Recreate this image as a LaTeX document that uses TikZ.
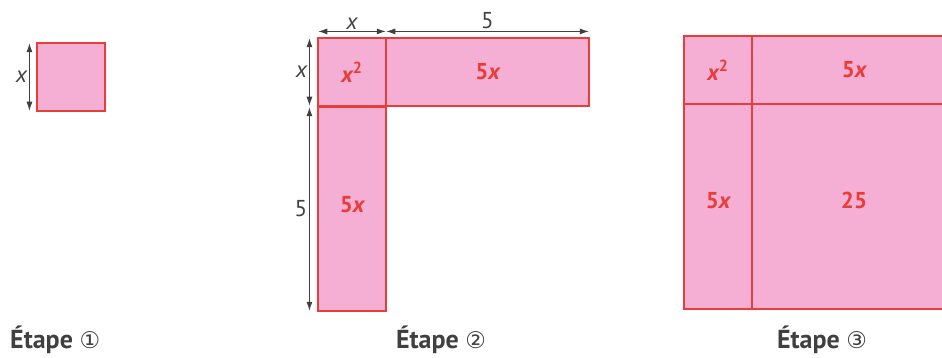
\documentclass[tikz,border=0pt]{standalone}
\usepackage{fontspec}
\setmainfont{PT Sans}
\newfontfamily\circfont{DejaVu Sans}
\usetikzlibrary{arrows.meta}
\definecolor{rose}{RGB}{245,174,212}
\definecolor{rouge}{RGB}{232,62,58}
\definecolor{gris}{RGB}{64,64,64}
\begin{document}
\begin{tikzpicture}[x=1pt,y=-1pt,
    cell/.style={draw=rouge,fill=rose,line width=1.1pt,inner sep=0pt,text=rouge,
        font=\fontsize{23}{26}\selectfont\bfseries},
    cote/.style={gris,line width=0.8pt,shorten <=0.8pt,shorten >=0.8pt,
        {Latex[length=9pt,width=6pt]}-{Latex[length=9pt,width=6pt]}},
    cotelab/.style={text=gris,inner sep=2pt,font=\fontsize{23}{26}\selectfont},
    etape/.style={text=gris,inner sep=0pt,font=\fontsize{26}{30}\selectfont\bfseries}]
    \clip (0,0) rectangle (942,358);
    % etape 1
    \node[cell,minimum width=68pt,minimum height=68pt] (sqA) at (71,77) {};
    \draw[cote] ([xshift=-7pt]sqA.north west) -- ([xshift=-7pt]sqA.south west) node[cotelab,midway,left] {\itshape x};
    \node[etape,anchor=west] (etA) at (10,340) {Étape {\circfont\mdseries\fontsize{23}{26}\selectfont ①}};
    % etape 2
    \node[cell,minimum width=68pt,minimum height=68pt] (sqB) at (352,72) {{\itshape x}\textsuperscript{2}};
    \node[cell,minimum width=203pt,minimum height=68pt] (rowB) at (487.5,72) {5{\itshape x}};
    \node[cell,minimum width=68pt,minimum height=204pt,text depth=10pt] (colB) at (352,209) {5{\itshape x}};
    \draw[cote] ([yshift=6pt]sqB.north west) -- ([yshift=6pt]sqB.north east) node[cotelab,midway,above] {\itshape x};
    \draw[cote] ([yshift=6pt]rowB.north west) -- ([yshift=6pt]rowB.north east) node[cotelab,midway,above] {5};
    \draw[cote] ([xshift=-8pt]sqB.north west) -- ([xshift=-8pt]sqB.south west) node[cotelab,midway,left] {\itshape x};
    \draw[cote] ([xshift=-8pt]colB.north west) -- ([xshift=-8pt]colB.south west) node[cotelab,midway,left] {5};
    \node[etape] (etB) at (441,340) {Étape {\circfont\mdseries\fontsize{23}{26}\selectfont ②}};
    % etape 3
    \node[cell,minimum width=68pt,minimum height=68pt] (sqC) at (718,70) {{\itshape x}\textsuperscript{2}};
    \node[cell,minimum width=204pt,minimum height=68pt] (rowC) at (854,70) {5{\itshape x}};
    \node[cell,minimum width=68pt,minimum height=205pt,text depth=13pt] (colC) at (718,206.5) {5{\itshape x}};
    \node[cell,minimum width=204pt,minimum height=205pt,text depth=13pt] (bigC) at (854,206.5) {25};
    \node[etape] (etC) at (822,340) {Étape {\circfont\mdseries\fontsize{23}{26}\selectfont ③}};
\end{tikzpicture}
\end{document}
